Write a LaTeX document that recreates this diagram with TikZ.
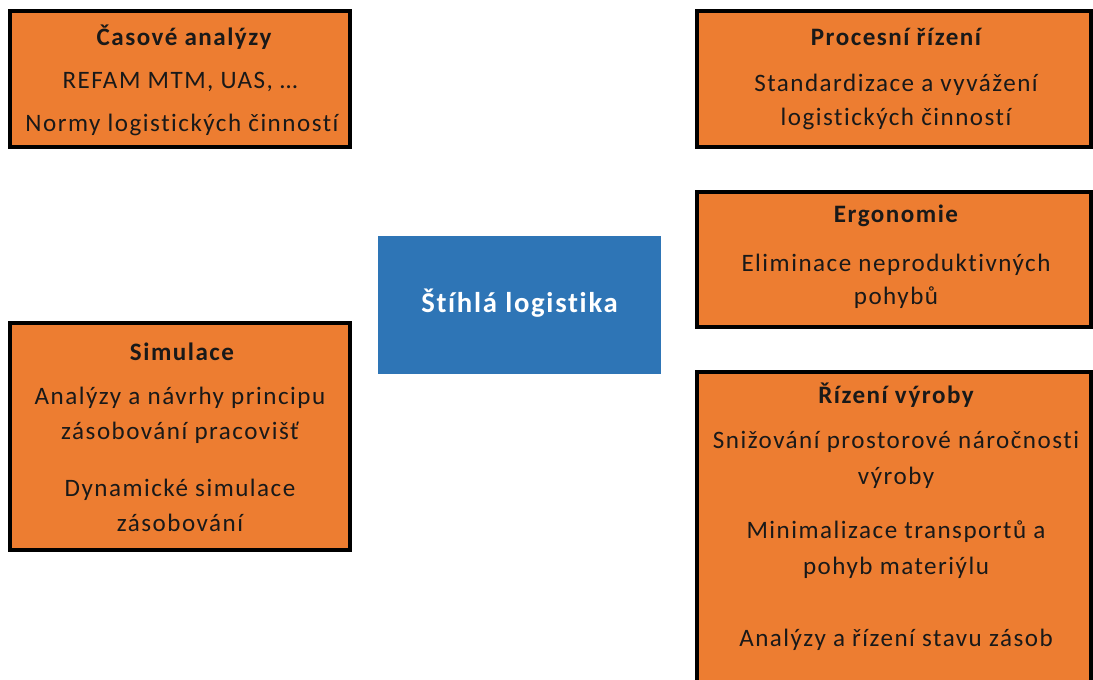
\documentclass[tikz,border=0pt]{standalone}
\usepackage{fontspec}
\setmainfont{Carlito}
\definecolor{boxorange}{HTML}{ED7D31}
\definecolor{boxblue}{HTML}{2E75B6}
\newfontfamily\wideface[LetterSpace=6,Ligatures={NoCommon}]{Carlito}
\begin{document}
\begin{tikzpicture}[x=0.75pt,y=-0.75pt,
  obox/.style={draw=black,line width=2.4pt,fill=boxorange},
  cbox/.style={fill=boxblue},
  ttl/.style={font=\wideface\fontsize{18.8}{22}\selectfont\bfseries,text=black!90,anchor=center,inner sep=0},
  txt/.style={font=\wideface\fontsize{18.8}{22}\selectfont,text=black!90,anchor=center,inner sep=0},
  ctxt/.style={font=\wideface\fontsize{21.5}{25}\selectfont\bfseries,text=white,anchor=center,inner sep=0}]
\useasboundingbox (0,0) rectangle (1093,679);
\clip (0,0) rectangle (1093,679);
% boxes
\filldraw[obox] (10,11) rectangle (350,147);
\filldraw[obox] (10,323) rectangle (350,550);
\filldraw[obox] (697,11) rectangle (1091,147);
\filldraw[obox] (697,192) rectangle (1091,327);
\filldraw[obox] (697,372) rectangle (1091,700);
\fill[cbox] (378,236) rectangle (661,374);
% centre
\node[ctxt] (center) at (519.5,303) {Štíhlá logistika};
% Casove analyzy
\node[ttl] (cas) at (184,37) {Časové analýzy};
\node[txt] (cas1) at (180,82) {REFAM MTM, UAS, …};
\node[txt] (cas2) at (182,125) {Normy logistických činností};
% Simulace
\node[ttl] (sim) at (182,352) {Simulace};
\node[txt] (sim1) at (180,398) {Analýzy a návrhy principu};
\node[txt] (sim2) at (180,433) {zásobování pracovišť};
\node[txt] (sim3) at (180,490) {Dynamické simulace};
\node[txt] (sim4) at (180,523) {zásobování};
% Procesni rizeni
\node[ttl] (pro) at (896,37) {Procesní řízení};
\node[txt] (pro1) at (896,85) {Standardizace a vyvážení};
\node[txt] (pro2) at (896,119) {logistických činností};
% Ergonomie
\node[ttl] (erg) at (896,216) {Ergonomie};
\node[txt] (erg1) at (896,265) {Eliminace neproduktivných};
\node[txt] (erg2) at (896,298) {pohybů};
% Rizeni vyroby
\node[ttl] (riz) at (896,395) {Řízení výroby};
\node[txt] (riz1) at (896,442) {Snižování prostorové náročnosti};
\node[txt] (riz2) at (896,478) {výroby};
\node[txt] (riz3) at (896,532) {Minimalizace transportů a};
\node[txt] (riz4) at (896,568) {pohyb materiýlu};
\node[txt] (riz5) at (896,640) {Analýzy a řízení stavu zásob};
\end{tikzpicture}
\end{document}
